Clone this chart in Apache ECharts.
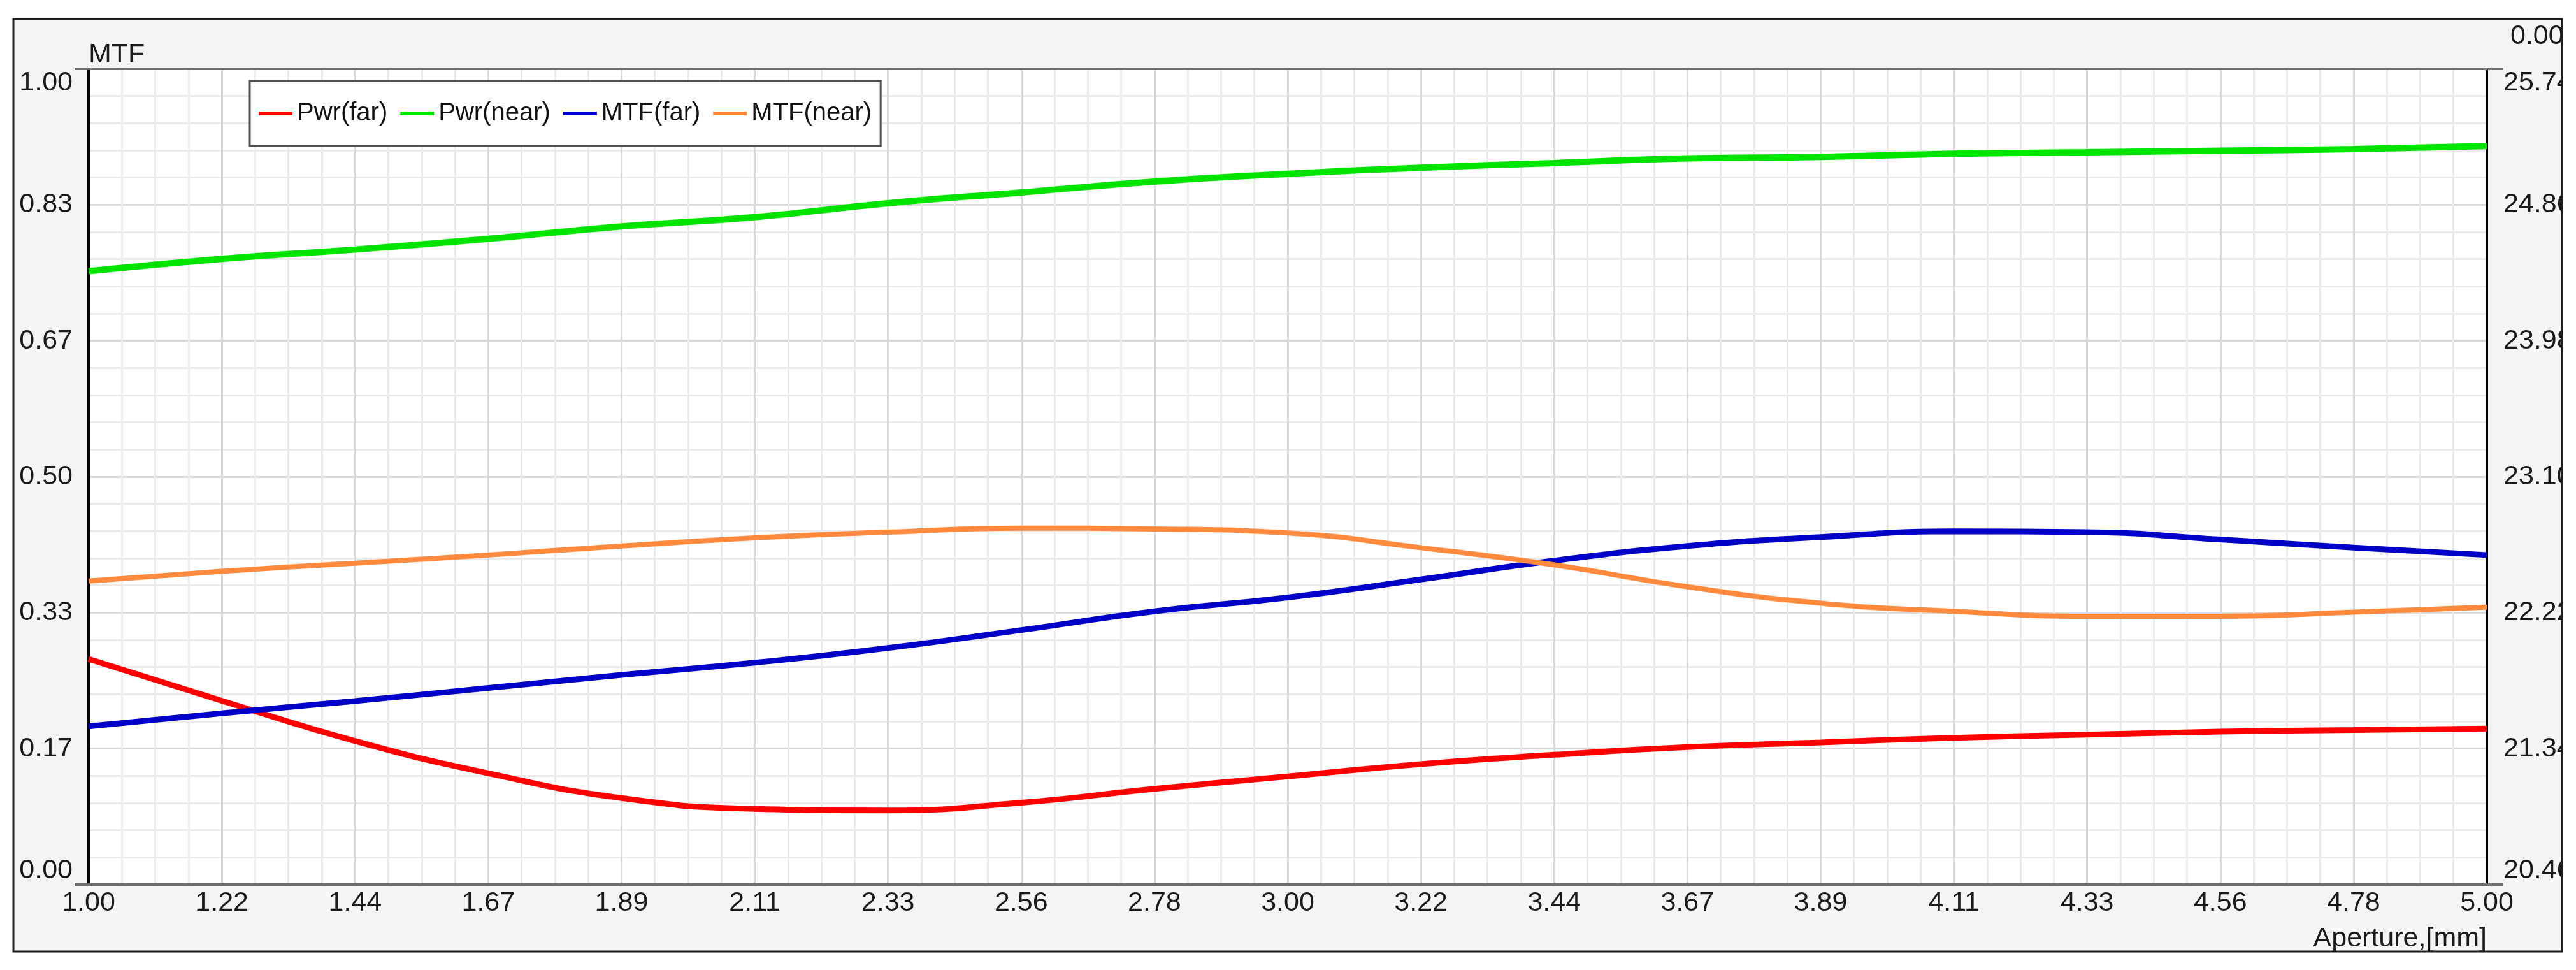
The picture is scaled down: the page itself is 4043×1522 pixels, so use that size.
<!DOCTYPE html>
<html>
<head>
<meta charset="utf-8">
<title>MTF / Pwr vs Aperture</title>
<script src="https://cdn.jsdelivr.net/npm/echarts@6/dist/echarts.min.js"></script>
<style>
  html, body { margin: 0; padding: 0; background: #fff; }
  #chart { width: 4043px; height: 1522px; }
</style>
</head>
<body>
<div id="chart"></div>
<script>
let aperture = [1.000, 1.222, 1.444, 1.667, 1.889, 2.111, 2.333, 2.556, 2.778, 3.000,
                3.222, 3.444, 3.667, 3.889, 4.111, 4.333, 4.556, 4.778, 5.000];
// MTF curves (left axis)
let mtfFar  = [0.194, 0.210, 0.225, 0.241, 0.257, 0.272, 0.290, 0.312, 0.335, 0.352,
               0.374, 0.397, 0.415, 0.426, 0.433, 0.432, 0.423, 0.413, 0.404];
let mtfNear = [0.372, 0.384, 0.394, 0.404, 0.415, 0.425, 0.432, 0.437, 0.436, 0.431,
               0.413, 0.392, 0.365, 0.345, 0.335, 0.329, 0.329, 0.334, 0.340];
// power curves, dioptres (right axis)
let pwrFar  = [21.92, 21.65, 21.39, 21.18, 21.02, 20.95, 20.94, 20.99, 21.08, 21.16,
               21.24, 21.30, 21.35, 21.38, 21.41, 21.43, 21.45, 21.46, 21.47];
let pwrNear = [24.43, 24.51, 24.57, 24.64, 24.72, 24.78, 24.87, 24.94, 25.01, 25.06,
               25.10, 25.13, 25.16, 25.17, 25.19, 25.20, 25.21, 25.22, 25.24];

let seriesNames = ['Pwr(far)', 'Pwr(near)', 'MTF(far)', 'MTF(near)'];
let seriesColors = ['#ff0000', '#00e400', '#0000c8', '#ff8a3d'];

// axis ranges
let xRange = [1, 5];
let mtfRange = [0, 1];
let pwrRange = [20.46, 25.74];

// plot box (px)
let G = { left: 139, top: 108, right: 3903, bottom: 1388 };

let labelFont = "'Liberation Sans', Arial, sans-serif";
let legendFont = "'Liberation Sans', Arial, sans-serif";

function pairs(xs, ys) {
  return xs.map((x, i) => [x, ys[i]]);
}

// end labels of the value axes sit inside the plot, like the original program
function endLabel(range) {
  return v => {
    let t = v.toFixed(2);
    if (Math.abs(v - range[1]) < 1e-6) return '{hi|' + t + '}';
    if (Math.abs(v - range[0]) < 1e-6) return '{lo|' + t + '}';
    return t;
  };
}

let chart = echarts.init(document.getElementById('chart'), null, { renderer: 'canvas' });

let axisText = { fontFamily: labelFont, fontSize: 43, color: '#1a1a1a' };
let endRich = {
  hi: Object.assign({ padding: [44, 0, 0, 0] }, axisText),
  lo: Object.assign({ padding: [0, 0, 44, 0] }, axisText)
};

let option = {
  animation: false,
  backgroundColor: '#fff',
  grid: {
    left: G.left, top: G.top, right: 4043 - G.right, bottom: 1522 - G.bottom,
    show: true, backgroundColor: '#fff', borderWidth: 0
  },
  legend: {
    left: 392, top: 127,
    padding: [31, 14, 31, 14],
    itemGap: 20, itemWidth: 53, itemHeight: 6,
    icon: 'rect',
    backgroundColor: '#fff', borderColor: '#505050', borderWidth: 3,
    textStyle: { fontFamily: legendFont, fontSize: 40, color: '#111', padding: [0, 0, 0, 2] },
    data: seriesNames
  },
  xAxis: [{
    type: 'value',
    min: xRange[0], max: xRange[1], interval: (xRange[1] - xRange[0]) / 18,
    name: 'Aperture,[mm]', nameLocation: 'end', nameGap: 0,
    nameTextStyle: Object.assign({ align: 'right', verticalAlign: 'top', padding: [64, 0, 0, 0] }, axisText),
    axisLine: { show: false },
    axisTick: { show: false },
    axisLabel: Object.assign({ margin: 8, formatter: v => v.toFixed(2) }, axisText),
    splitLine: { show: true, lineStyle: { color: '#d9d9d9', width: 3 } },
    minorTick: { show: false, splitNumber: 4 },
    minorSplitLine: { show: true, lineStyle: { color: '#ebebeb', width: 3 } }
  }],
  yAxis: [{
    type: 'value', position: 'left',
    min: mtfRange[0], max: mtfRange[1], interval: 1 / 6,
    name: 'MTF', nameLocation: 'end', nameGap: 0,
    nameTextStyle: Object.assign({ align: 'left', verticalAlign: 'bottom' }, axisText),
    axisLine: { show: true, lineStyle: { color: '#000', width: 4 } },
    axisTick: { show: false },
    axisLabel: Object.assign({ margin: 25, formatter: endLabel(mtfRange), rich: endRich }, axisText),
    splitLine: { show: true, lineStyle: { color: '#d9d9d9', width: 3 } },
    minorTick: { show: false, splitNumber: 5 },
    minorSplitLine: { show: true, lineStyle: { color: '#ebebeb', width: 3 } }
  }, {
    type: 'value', position: 'right',
    min: pwrRange[0], max: pwrRange[1], interval: (pwrRange[1] - pwrRange[0]) / 6,
    name: '0.00', nameLocation: 'end', nameGap: 29,
    nameTextStyle: Object.assign({ align: 'left', verticalAlign: 'bottom', padding: [0, 0, 0, 37] }, axisText),
    axisLine: { show: true, lineStyle: { color: '#000', width: 4 } },
    axisTick: { show: false },
    axisLabel: Object.assign({ margin: 26, formatter: endLabel(pwrRange), rich: endRich }, axisText),
    splitLine: { show: false }
  }],
  series: [
    { name: seriesNames[0], yAxisIndex: 1, data: pairs(aperture, pwrFar),  width: 9 },
    { name: seriesNames[1], yAxisIndex: 1, data: pairs(aperture, pwrNear), width: 10 },
    { name: seriesNames[2], yAxisIndex: 0, data: pairs(aperture, mtfFar),  width: 9 },
    { name: seriesNames[3], yAxisIndex: 0, data: pairs(aperture, mtfNear), width: 8 }
  ].map((s, i) => ({
    name: s.name, type: 'line', yAxisIndex: s.yAxisIndex, data: s.data,
    smooth: true, symbol: 'none', z: 3,
    lineStyle: { color: seriesColors[i], width: s.width },
    itemStyle: { color: seriesColors[i] }
  })),
  graphic: [
    // outer panel
    { type: 'rect', z: -100, silent: true,
      shape: { x: 21, y: 30, width: 4000, height: 1463 },
      style: { fill: '#f4f4f4', stroke: 'none' } },
    // grey top / bottom frame of the plot, a bit longer than the plot
    { type: 'line', z: 50, silent: true,
      shape: { x1: G.left - 21, y1: G.top, x2: G.right + 26, y2: G.top },
      style: { stroke: '#6e6e6e', lineWidth: 4 } },
    { type: 'line', z: 50, silent: true,
      shape: { x1: G.left - 21, y1: G.bottom, x2: G.right + 26, y2: G.bottom },
      style: { stroke: '#6e6e6e', lineWidth: 4 } },
    // clip labels at the panel edge
    { type: 'rect', z: 100, silent: true,
      shape: { x: 4020, y: 0, width: 30, height: 1522 },
      style: { fill: '#fff' } },
    { type: 'rect', z: 101, silent: true,
      shape: { x: 21, y: 30, width: 4000, height: 1463 },
      style: { fill: 'none', stroke: '#1e1e1e', lineWidth: 3 } }
  ]
};

chart.setOption(option);
</script>
</body>
</html>
